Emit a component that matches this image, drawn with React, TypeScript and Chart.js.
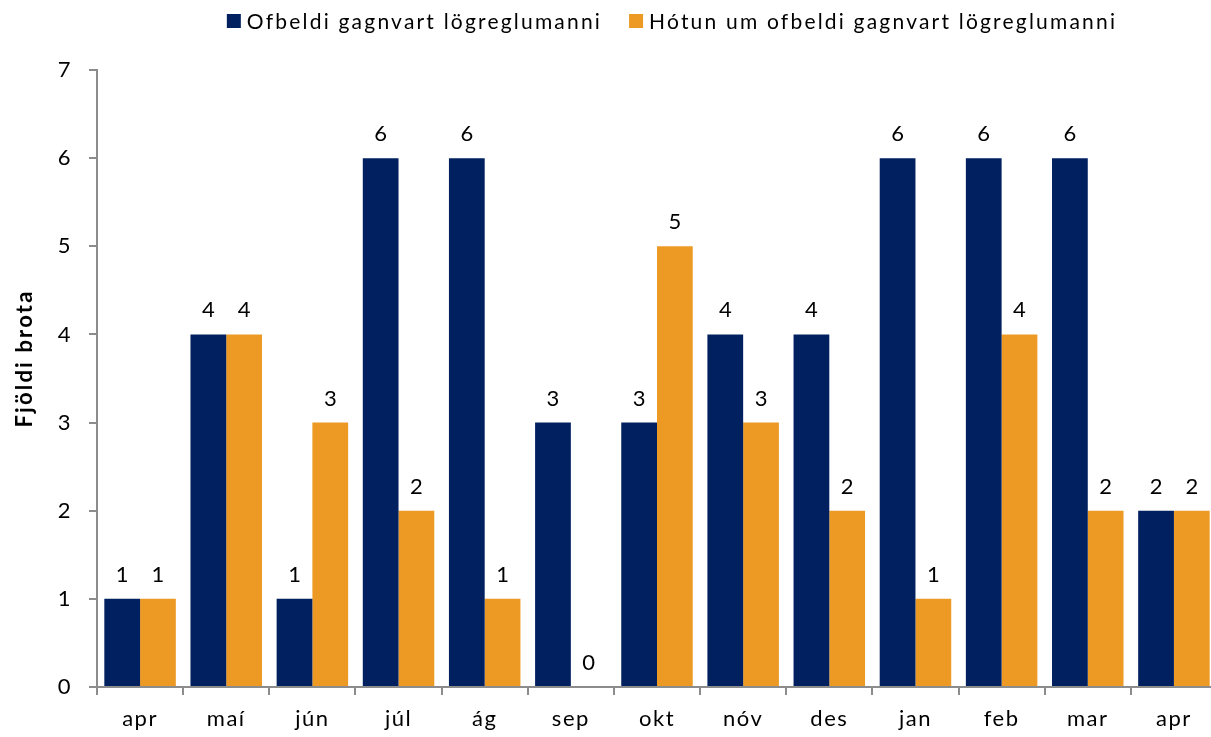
import React, { useEffect, useRef } from "react";
import { Chart, registerables } from "chart.js";

Chart.register(...registerables);

const categories = ["apr", "maí", "jún", "júl", "ág", "sep", "okt", "nóv", "des", "jan", "feb", "mar", "apr"];
const seriesNames = ["Ofbeldi gagnvart lögreglumanni", "Hótun um ofbeldi gagnvart lögreglumanni"];
const violence = [1, 4, 1, 6, 6, 3, 3, 4, 4, 6, 6, 6, 2];
const threats = [1, 4, 3, 2, 1, 0, 5, 3, 2, 1, 4, 2, 2];
const yTicks = [0, 1, 2, 3, 4, 5, 6, 7];
const yTitle = "Fjöldi brota";

const NAVY = "#002060";
const ORANGE = "#EC9A24";
const AXIS = "#8c8c8c";
const FONT = "Lato, 'Open Sans', sans-serif";

const spacingPlugin = {
  id: "spacing",
  beforeLayout(chart: any) {
    chart.ctx.letterSpacing = "1.5px";
  },
  beforeDraw(chart: any) {
    chart.ctx.letterSpacing = "1.5px";
  },
};

const labelPlugin = {
  id: "barLabels",
  afterDatasetsDraw(chart: any) {
    const ctx = chart.ctx;
    ctx.save();
    ctx.font = `22px ${FONT}`;
    ctx.letterSpacing = "0px";
    ctx.fillStyle = "#000";
    ctx.textAlign = "center";
    ctx.textBaseline = "alphabetic";
    chart.data.datasets.forEach((ds: any, i: number) => {
      const meta = chart.getDatasetMeta(i);
      meta.data.forEach((el: any, j: number) => {
        ctx.fillText(String(ds.data[j]), el.x, el.y - 17);
      });
    });
    ctx.restore();
  },
};

const legendPlugin = {
  id: "customLegend",
  afterDraw(chart: any) {
    const ctx = chart.ctx;
    const area = chart.chartArea;
    ctx.save();
    ctx.font = `21px ${FONT}`;
    ctx.letterSpacing = "2.2px";
    ctx.textBaseline = "middle";
    ctx.textAlign = "left";
    const box = 14;
    const gapBoxText = 6;
    const gapItems = 27;
    const colors = [NAVY, ORANGE];
    const widths = seriesNames.map((n) => box + gapBoxText + ctx.measureText(n).width);
    const total = widths.reduce((a, b) => a + b, 0) + gapItems;
    let x = (area.left + area.right) / 2 + 15 - total / 2;
    const y = 21;
    seriesNames.forEach((n, i) => {
      ctx.fillStyle = colors[i];
      ctx.fillRect(x, y - box / 2, box, box);
      ctx.fillStyle = "#000";
      ctx.fillText(n, x + box + gapBoxText, y + 1);
      x += widths[i] + gapItems;
    });

    // y-axis title
    ctx.font = `bold 22px ${FONT}`;
    ctx.letterSpacing = "2.2px";
    ctx.textAlign = "center";
    ctx.textBaseline = "middle";
    ctx.translate(25, (area.top + area.bottom) / 2 - 20);
    ctx.rotate(-Math.PI / 2);
    ctx.fillText(yTitle, 0, 0);
    ctx.restore();
  },
};

export default function App() {
  const ref = useRef<HTMLCanvasElement>(null);
  useEffect(() => {
    document.body.style.overflow = "hidden";
    const chart = new Chart(ref.current!, {
      type: "bar",
      data: {
        labels: categories,
        datasets: [
          { label: seriesNames[0], data: violence, backgroundColor: NAVY, barPercentage: 1, categoryPercentage: 0.83 },
          { label: seriesNames[1], data: threats, backgroundColor: ORANGE, barPercentage: 1, categoryPercentage: 0.83 },
        ],
      },
      options: {
        animation: false,
        responsive: true,
        maintainAspectRatio: false,
        layout: { padding: { top: 70, right: 3, bottom: 0, left: 0 } },
        plugins: { legend: { display: false }, tooltip: { enabled: false } },
        scales: {
          x: {
            offset: true,
            afterFit(scale: any) {
              scale.height = 50;
            },
            grid: { display: true, drawOnChartArea: false, offset: true, tickLength: 8, color: AXIS, lineWidth: 2 },
            border: { color: AXIS, width: 2 },
            ticks: { color: "#000", font: { size: 22, family: FONT }, padding: 11 },
          },
          y: {
            min: 0,
            max: 7,
            afterBuildTicks(scale: any) {
              scale.ticks = yTicks.map((v) => ({ value: v }));
            },
            afterFit(scale: any) {
              scale.width = 97;
            },
            grid: { display: true, drawOnChartArea: false, tickLength: 8, color: AXIS, lineWidth: 2 },
            border: { color: AXIS, width: 2 },
            ticks: { color: "#000", font: { size: 22, family: FONT }, padding: 17 },
            title: { display: false },
          },
        },
      },
      plugins: [spacingPlugin, labelPlugin, legendPlugin],
    });
    return () => chart.destroy();
  }, []);
  return (
    <div style={{ position: "fixed", left: 0, top: 0, width: 1220, height: 737, background: "#fff" }}>
      <canvas ref={ref} />
    </div>
  );
}
